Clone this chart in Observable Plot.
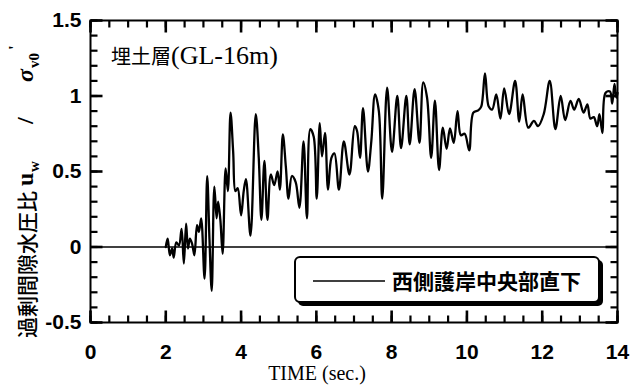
<!DOCTYPE html>
<html><head><meta charset="utf-8">
<script src="https://cdn.jsdelivr.net/npm/d3@7"></script>
<script src="https://cdn.jsdelivr.net/npm/@observablehq/plot@0.6"></script>
<style>
html,body{margin:0;padding:0;background:#fff;}
#chart{width:644px;height:385px;position:relative;}
</style></head><body><div id="chart"></div>
<script>
// time (sec.)
const time = [2.00,2.05,2.11,2.17,2.21,2.28,2.35,2.42,2.48,2.54,2.59,2.64,2.70,2.76,2.83,2.88,2.94,3.03,3.10,3.16,3.22,3.29,3.35,3.39,3.45,3.51,3.59,3.65,3.72,3.79,3.85,3.91,4.00,4.07,4.13,4.25,4.39,4.47,4.54,4.62,4.70,4.79,4.88,4.97,5.03,5.11,5.19,5.26,5.35,5.45,5.55,5.66,5.75,5.84,5.93,6.01,6.09,6.15,6.23,6.31,6.40,6.48,6.60,6.73,6.88,7.02,7.08,7.16,7.24,7.37,7.46,7.56,7.66,7.75,7.88,8.01,8.15,8.25,8.39,8.48,8.61,8.74,8.84,8.94,9.05,9.15,9.26,9.36,9.46,9.55,9.65,9.75,9.84,9.94,10.06,10.17,10.30,10.38,10.48,10.58,10.67,10.78,10.89,10.99,11.12,11.28,11.39,11.48,11.63,11.78,11.89,12.04,12.20,12.35,12.49,12.61,12.75,12.85,12.97,13.10,13.20,13.28,13.37,13.46,13.52,13.60,13.68,13.80,13.86,13.92,13.97,14.00];
// excess pore water pressure ratio u_w / sigma_v0'
const ratio = [0,0.055,-0.055,-0.01,-0.07,0.03,0.01,0.12,-0.11,0.155,-0.01,0.055,0.02,-0.055,0.145,0.10,0.19,-0.21,0.47,0.055,-0.29,0.40,0.19,0.30,0.18,-0.045,0.52,0.37,0.89,0.63,0.37,0.39,0.21,0.37,0.45,0.075,0.88,0.59,0.18,0.57,0.18,0.48,0.41,0.50,0.38,0.745,0.53,0.32,0.47,0.43,0.26,0.70,0.19,0.78,0.73,0.32,0.82,0.60,0.755,0.38,0.59,0.62,0.38,0.70,0.48,0.80,0.77,0.59,0.92,0.50,0.70,1.01,0.90,0.32,1.055,0.63,1.0,0.655,1.0,0.68,1.045,0.69,1.09,0.99,0.59,0.97,0.51,0.79,0.65,0.785,0.69,0.90,0.74,0.75,0.64,0.89,0.905,0.93,1.15,0.93,0.91,1.01,0.85,1.05,0.88,1.10,0.83,1.01,0.79,0.835,0.80,0.88,1.10,0.78,1.0,0.84,0.967,0.91,0.98,0.89,0.945,0.85,0.86,0.80,0.88,0.755,1.02,1.03,0.95,1.08,0.99,1.02];
const xTickLabels = [0,2,4,6,8,10,12,14];
const yTickLabels = [-0.5,0,0.5,1,1.5];
const xMinorTicks = d3.range(0, 14.001, 0.5);
const yMinorTicks = d3.range(-0.5, 1.5001, 0.1);
const seriesName = "西側護岸中央部直下";
const panelTitleCJK = "埋土層";
const panelTitleLatin = "(GL-16m)";
const xTitle = "TIME (sec.)";
const yTitleCJK = "過剰間隙水圧比";

const data = time.map((t, i) => ({t, v: ratio[i]}));

const W = 644, H = 385, mL = 90, mR = 27, mT = 20, mB = 63;
const PW = W - mL - mR, PH = H - mT - mB;
const xDom = [0, 14], yDom = [-0.5, 1.5];
const minor = 7, major = 12;
const ux = (xDom[1] - xDom[0]) / PW, uy = (yDom[1] - yDom[0]) / PH;
const tickFont = {fontSize: 21, fontWeight: "bold", fontFamily: "Liberation Sans, Arial, sans-serif"};

const xTicks = (vals, len, w) => [
  Plot.link(vals, {x1: d => d, x2: d => d, y1: yDom[1], y2: yDom[1] - len * uy, stroke: "black", strokeWidth: w}),
  Plot.link(vals, {x1: d => d, x2: d => d, y1: yDom[0], y2: yDom[0] + len * uy, stroke: "black", strokeWidth: w})
];
const yTicks = (vals, len, w) => [
  Plot.link(vals, {y1: d => d, y2: d => d, x1: xDom[0], x2: xDom[0] + len * ux, stroke: "black", strokeWidth: w}),
  Plot.link(vals, {y1: d => d, y2: d => d, x1: xDom[1], x2: xDom[1] - len * ux, stroke: "black", strokeWidth: w})
];

const plot = Plot.plot({
  width: W, height: H,
  marginLeft: mL, marginRight: mR, marginTop: mT, marginBottom: mB,
  x: {domain: xDom},
  y: {domain: yDom},
  style: {background: "white", color: "black", overflow: "visible"},
  marks: [
    Plot.ruleY([0], {stroke: "black", strokeWidth: 1.6}),
    Plot.line(data, {x: "t", y: "v", curve: "catmull-rom", stroke: "black", strokeWidth: 2.3}),
    ...xTicks(xMinorTicks, minor, 2.2),
    ...xTicks(xTickLabels, major, 2.6),
    ...yTicks(yMinorTicks, minor, 2.2),
    ...yTicks(yTickLabels, major, 2.6),
    Plot.frame({stroke: "black", strokeWidth: 2}),
    Plot.axisX({ticks: xTickLabels, tickSize: 0, tickPadding: 22, label: null, tickFormat: d => String(d), ...tickFont}),
    Plot.axisY({ticks: yTickLabels, tickSize: 0, tickPadding: 9, label: null, tickFormat: d => String(d), ...tickFont})
  ]
});

document.getElementById("chart").appendChild(plot);
const svg = d3.select(plot);
const serif = "Liberation Serif, Times New Roman, serif";

// x axis title
svg.append("text")
  .attr("x", 317).attr("y", 380)
  .attr("text-anchor", "middle")
  .attr("font-family", serif)
  .attr("font-size", 20)
  .attr("fill", "black")
  .text(xTitle);

// y axis title (rotated; local x = 338 - screen y)
const yt = svg.append("text")
  .attr("transform", "translate(35,338) rotate(-90)")
  .attr("text-anchor", "start")
  .attr("fill", "black");
yt.append("tspan").attr("x", 0).attr("y", 0).attr("font-family", "Noto Sans CJK JP, sans-serif").attr("font-weight", 500).attr("font-size", 21).text(yTitleCJK);
yt.append("tspan").attr("x", 152).attr("y", -2).attr("font-family", serif).attr("font-weight", "bold").attr("font-size", 24).text("u");
yt.append("tspan").attr("x", 166).attr("y", 4).attr("font-family", serif).attr("font-weight", "bold").attr("font-size", 15).text("w");
yt.append("tspan").attr("x", 214).attr("y", -2).attr("font-family", serif).attr("font-weight", "bold").attr("font-size", 24).text("/");
yt.append("tspan").attr("x", 256).attr("y", -2).attr("font-family", serif).attr("font-style", "italic").attr("font-weight", "bold").attr("font-size", 24).text("σ");
yt.append("tspan").attr("x", 270).attr("y", 4).attr("font-family", serif).attr("font-weight", "bold").attr("font-size", 15).text("v0");
yt.append("tspan").attr("x", 288).attr("y", -15).attr("font-family", serif).attr("font-weight", "bold").attr("font-size", 17).text("'");

// panel title
svg.append("text")
  .attr("x", 111).attr("y", 64)
  .attr("text-anchor", "start")
  .attr("fill", "black")
  .call(t => {
    t.append("tspan").attr("font-family", "Noto Sans CJK JP, sans-serif").attr("font-size", 20).text(panelTitleCJK);
    t.append("tspan").attr("font-family", serif).attr("font-size", 26).text(panelTitleLatin);
  });

// legend box with shadow
const lg = svg.append("g");
lg.append("rect").attr("x", 298).attr("y", 260).attr("width", 305).attr("height", 46).attr("rx", 5).attr("fill", "black");
lg.append("rect").attr("x", 295).attr("y", 257).attr("width", 304).attr("height", 45).attr("rx", 5).attr("fill", "white").attr("stroke", "black").attr("stroke-width", 2);
lg.append("line").attr("x1", 313).attr("x2", 385).attr("y1", 281).attr("y2", 281).attr("stroke", "black").attr("stroke-width", 1.5);
lg.append("text").attr("x", 392).attr("y", 288.5).attr("text-anchor", "start")
  .attr("font-family", "Noto Sans CJK JP, sans-serif").attr("font-weight", "bold").attr("font-size", 21)
  .attr("fill", "black").text(seriesName);
</script></body></html>
